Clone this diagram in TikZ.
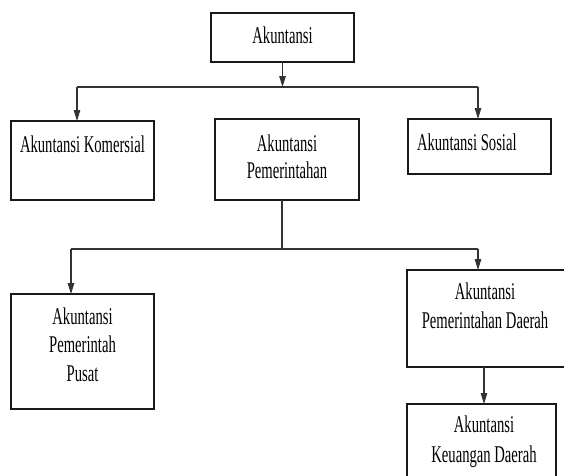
\documentclass[tikz,border=0pt]{standalone}
\usepackage{fontspec}
\setmainfont{Liberation Serif}[FakeStretch=0.61]
\usetikzlibrary{arrows.meta}
\begin{document}
\begin{tikzpicture}[x=1pt,y=-1pt,
  box/.style={draw=black!90,line width=1.3pt,inner sep=0pt,outer sep=0pt},
  lbl/.style={inner sep=0pt,outer sep=0pt,font=\fontsize{24}{27}\selectfont,text=black},
  conn/.style={draw=black!80,line width=1.1pt},
  arr/.style={conn,-{Triangle[width=6.5pt,length=11pt]}}]
\useasboundingbox (0,0) rectangle (564,475);
% boxes
\node[box,minimum width=143pt,minimum height=49pt] (akun) at (282.5,37.5) {};
\node[box,minimum width=143pt,minimum height=79pt] (kom) at (82.5,160.5) {};
\node[box,minimum width=144pt,minimum height=81pt] (pem) at (287,159.5) {};
\node[box,minimum width=143pt,minimum height=55pt] (sos) at (479.5,146.5) {};
\node[box,minimum width=143pt,minimum height=115pt] (pus) at (82.5,351.5) {};
\node[box,minimum width=158pt,minimum height=97pt] (dae) at (486,318.5) {};
\node[box,minimum width=149pt,minimum height=82pt] (keu) at (481.5,445) {};
% texts (base anchor = baseline of the last line)
\node[lbl,anchor=base] (takun) at (282.5,43) {Akuntansi};
\node[lbl,anchor=base west] (tkom) at (20,152) {Akuntansi Komersial};
\node[lbl,anchor=base,align=center] (tpem) at (287,178) {Akuntansi\\Pemerintahan};
\node[lbl,anchor=base west] (tsos) at (417,150) {Akuntansi Sosial};
\node[lbl,anchor=base,align=center] (tpus) at (82.5,381) {Akuntansi\\[1.5pt]Pemerintah\\[1.5pt]Pusat};
\node[lbl,anchor=base,align=center] (tdae) at (485,328) {Akuntansi\\[2pt]Pemerintahan Daerah};
\node[lbl,anchor=base,align=center] (tkeu) at (484,462) {Akuntansi\\[3pt]Keuangan Daerah};
% junctions
\coordinate (j1) at (282.5,87);
\coordinate (l1) at (77,87);
\coordinate (r1) at (478,87);
\coordinate (j2) at (282,249);
\coordinate (l2) at (71,249);
\coordinate (r2) at (478,249);
% connectors
\draw[arr] (akun.south) -- (j1);
\draw[conn] (l1) -- (r1);
\draw[arr] (l1) -- (l1 |- kom.north);
\draw[arr] (r1) -- (r1 |- sos.north);
\draw[conn] (j2 |- pem.south) -- (j2);
\draw[conn] (l2) -- (r2);
\draw[arr] (l2) -- (l2 |- pus.north);
\draw[arr] (r2) -- (r2 |- dae.north);
\draw[arr] (484,367) coordinate (d1) -- (d1 |- keu.north);
\end{tikzpicture}
\end{document}
